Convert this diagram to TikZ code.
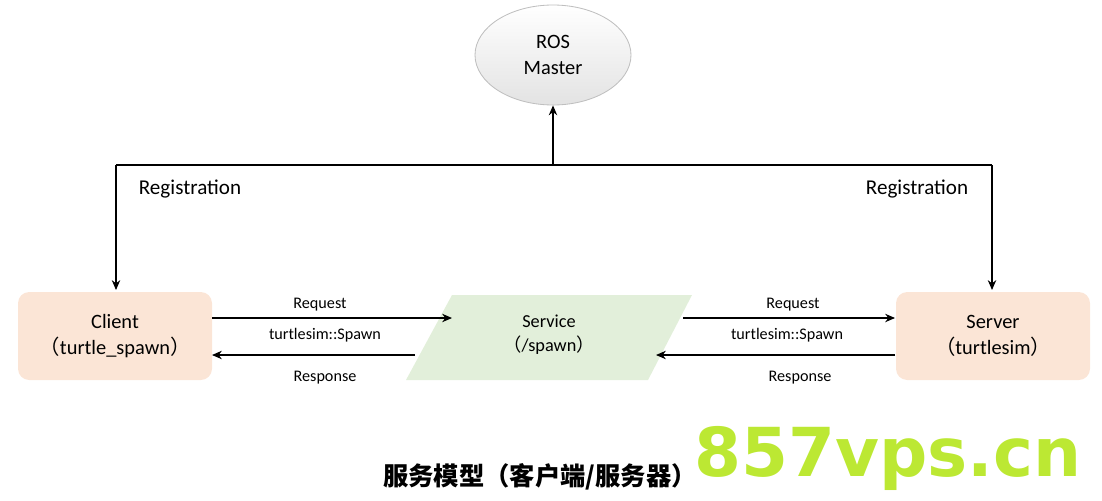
\documentclass[tikz,border=0pt]{standalone}
\usepackage{fontspec}
\setmainfont{Carlito}
\newfontfamily\cjk{Noto Sans CJK SC}
\newfontfamily\wmf{DejaVu Sans}
\usetikzlibrary{shapes.geometric,arrows.meta}
\definecolor{peach}{HTML}{FBE5D6}
\definecolor{svcgreen}{HTML}{E2EFDA}
\definecolor{wm}{HTML}{B5E61D}
\begin{document}
\begin{tikzpicture}[x=0.025cm,y=-0.025cm,
  box/.style={draw=none,fill=peach,rounded corners=8pt,minimum width=194*0.025cm,minimum height=88*0.025cm,align=center,font=\fontsize{14.5}{18}\selectfont},
  lab/.style={font=\fontsize{11.5}{13}\selectfont},
  arr/.style={-{Stealth[length=7pt,width=6pt]},line width=0.8pt},
  ln/.style={line width=0.8pt}]
\useasboundingbox (0,0) rectangle (1102,500);
\node[ellipse,draw=gray!50,line width=0.6pt,top color=white,bottom color=gray!22,minimum width=156*0.025cm,minimum height=100*0.025cm,align=center,font=\fontsize{14.5}{18}\selectfont] (ros) at (553,55) {ROS\\Master};
\coordinate (top) at (553,165);
\coordinate (tl) at (116,165);
\coordinate (tr) at (992,165);
\node[box] (client) at (115,336) {Client\\{\cjk （}turtle\_spawn{\cjk ）}};
\node[box] (server) at (993,336) {Server\\{\cjk （}turtlesim{\cjk ）}};
\fill[svcgreen] (452,295) -- (692,295) -- (648,380) -- (406,380) -- cycle;
\node[align=center,font=\fontsize{13}{17}\selectfont] (svc) at (549,335) {Service\\{\cjk （}/spawn{\cjk ）}};
\draw[arr] (top) -- (ros.south);
\draw[ln] (tl) -- (tr);
\draw[arr] (tl) -- (116,290);
\draw[arr] (tr) -- (992,290);
\node[font=\fontsize{15}{18}\selectfont] at (190,189) {Registration};
\node[font=\fontsize{15}{18}\selectfont] at (917,189) {Registration};
\coordinate (a1) at (212,318); \coordinate (a2) at (452,318);
\coordinate (b1) at (415,355); \coordinate (b2) at (212,355);
\coordinate (c1) at (683,318); \coordinate (c2) at (895,318);
\coordinate (d1) at (895,355); \coordinate (d2) at (656,355);
\draw[arr] (a1) -- (a2);
\draw[arr] (b1) -- (b2);
\draw[arr] (c1) -- (c2);
\draw[arr] (d1) -- (d2);
\node[lab] at (320,305) {Request};
\node[lab] at (325,335) {turtlesim::Spawn};
\node[lab] at (325,378) {Response};
\node[lab] at (793,305) {Request};
\node[lab] at (787,335) {turtlesim::Spawn};
\node[lab] at (800,378) {Response};
\node[font=\cjk\bfseries\fontsize{18}{21}\selectfont] (title) at (540,477) {服务模型（客户端/服务器）};
\node[text=wm,font=\wmf\bfseries\fontsize{48}{52}\selectfont,opacity=0.9] (wmk) at (888,458) {857vps.cn};
\end{tikzpicture}
\end{document}
